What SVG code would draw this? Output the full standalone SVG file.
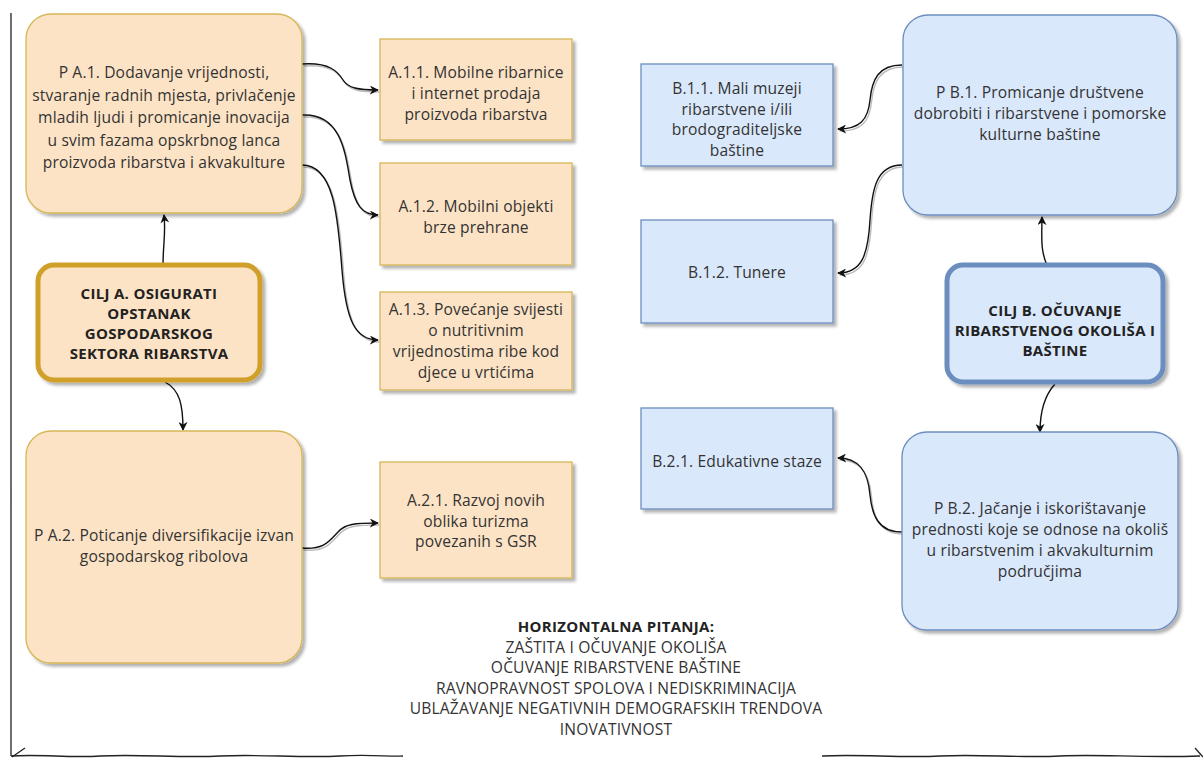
<svg xmlns="http://www.w3.org/2000/svg" width="1203" height="758" viewBox="0 0 1203 758">
<style>
.t{font-family:"Open Sans","Liberation Sans",sans-serif;font-size:15.6px;letter-spacing:0.15px;fill:#333;text-anchor:middle}
.b{font-weight:bold;font-size:15px;letter-spacing:0.3px;fill:#222}
.pe{fill:#fde3c5;stroke:#d6b656;stroke-width:1.3}
.pl{fill:#dae8fc;stroke:#6c8ebf;stroke-width:1.3}
.ga{fill:#fde3c5;stroke:#d0a02a;stroke-width:5}
.gb{fill:#dae8fc;stroke:#6c8ebf;stroke-width:5}
.c{fill:none;stroke:#111;stroke-width:1.4}
.cs{fill:none;stroke:#bbb;stroke-width:1.4}
.fr{fill:none;stroke:#222;stroke-width:1.3}
</style>
<defs>
<filter id="sh" x="-10%" y="-10%" width="130%" height="130%">
<feDropShadow dx="3" dy="3" stdDeviation="1.5" flood-color="#000" flood-opacity="0.3"/>
</filter>
<marker id="ar" viewBox="0 0 10 10" refX="9" refY="5" markerWidth="9" markerHeight="9" markerUnits="userSpaceOnUse" orient="auto">
<path d="M0,0 L10,5 L0,10 L3,5 z" fill="#111"/>
</marker>
</defs>

<g id="frame">
<path class="fr" d="M11,13 C12,120 10,240 11,360 C12,480 10,600 11,756"/>
<path class="fr" d="M11,756 C40,754 70,758 100,756 C140,754 180,758 220,756 C260,754 300,758 340,756 C370,754 390,757 403,756"/>
<path class="fr" d="M12,757 L25,748"/>
<path class="fr" d="M822,756 C860,754 900,758 940,756 C980,754 1020,758 1060,756 C1100,754 1140,758 1200,756"/>
<path class="fr" d="M1195,748 L1203,757"/>
</g>

<g id="connectors">
<g transform="translate(1.5,2)">
<path class="cs" d="M302,64 C330,62 338,72 343,80 C348,88 358,90 378,90"/>
<path class="cs" d="M302,115 C340,113 345,150 350,180 C355,205 362,215 378,215"/>
<path class="cs" d="M302,165 C335,165 338,220 342,270 C346,320 355,340 378,340"/>
<path class="cs" d="M302,548 C325,550 330,540 338,532 C345,524 355,523 378,523"/>
<path class="cs" d="M902,65 C878,65 872,80 870,100 C868,120 860,129 838,129"/>
<path class="cs" d="M902,165 C876,165 872,190 870,220 C868,255 862,273 838,273"/>
<path class="cs" d="M902,532 C878,532 872,515 870,495 C868,470 858,458 838,458"/>
</g>
<path class="c" marker-end="url(#ar)" d="M302,64 C330,62 338,72 343,80 C348,88 358,90 378,90"/>
<path class="c" marker-end="url(#ar)" d="M302,115 C340,113 345,150 350,180 C355,205 362,215 378,215"/>
<path class="c" marker-end="url(#ar)" d="M302,165 C335,165 338,220 342,270 C346,320 355,340 378,340"/>
<path class="c" marker-end="url(#ar)" d="M163,265 C163,245 166,232 164,215"/>
<path class="c" marker-end="url(#ar)" d="M165,382 C180,390 183,405 183,430"/>
<path class="c" marker-end="url(#ar)" d="M302,548 C325,550 330,540 338,532 C345,524 355,523 378,523"/>
<path class="c" marker-end="url(#ar)" d="M902,65 C878,65 872,80 870,100 C868,120 860,129 838,129"/>
<path class="c" marker-end="url(#ar)" d="M902,165 C876,165 872,190 870,220 C868,255 862,273 838,273"/>
<path class="c" marker-end="url(#ar)" d="M1047,265 C1040,250 1042,235 1042,217"/>
<path class="c" marker-end="url(#ar)" d="M1055,384 C1045,395 1040,410 1040,432"/>
<path class="c" marker-end="url(#ar)" d="M902,532 C878,532 872,515 870,495 C868,470 858,458 838,458"/>
</g>

<g id="pa1">
<rect class="pe" filter="url(#sh)" x="26" y="14" width="276" height="199" rx="25"/>
<text class="t" x="164" y="78">P A.1. Dodavanje vrijednosti,</text>
<text class="t" x="164" y="100.5">stvaranje radnih mjesta, privlačenje</text>
<text class="t" x="164" y="123">mladih ljudi i promicanje inovacija</text>
<text class="t" x="164" y="145.5">u svim fazama opskrbnog lanca</text>
<text class="t" x="164" y="168">proizvoda ribarstva i akvakulture</text>
</g>

<g id="a11">
<rect class="pe" filter="url(#sh)" x="380" y="39" width="192" height="101"/>
<text class="t" x="476" y="78">A.1.1. Mobilne ribarnice</text>
<text class="t" x="476" y="99">i internet prodaja</text>
<text class="t" x="476" y="120">proizvoda ribarstva</text>
</g>

<g id="a12">
<rect class="pe" filter="url(#sh)" x="380" y="163" width="192" height="102"/>
<text class="t" x="476" y="212">A.1.2. Mobilni objekti</text>
<text class="t" x="476" y="233">brze prehrane</text>
</g>

<g id="a13">
<rect class="pe" filter="url(#sh)" x="380" y="292" width="192" height="98"/>
<text class="t" x="476" y="315">A.1.3. Povećanje svijesti</text>
<text class="t" x="476" y="336">o nutritivnim</text>
<text class="t" x="476" y="357">vrijednostima ribe kod</text>
<text class="t" x="476" y="378">djece u vrtićima</text>
</g>

<g id="cilja">
<rect class="ga" filter="url(#sh)" x="38" y="265" width="222" height="115" rx="16"/>
<text class="t b" x="149" y="299">CILJ A. OSIGURATI</text>
<text class="t b" x="149" y="319">OPSTANAK</text>
<text class="t b" x="149" y="339">GOSPODARSKOG</text>
<text class="t b" x="149" y="359">SEKTORA RIBARSTVA</text>
</g>

<g id="pa2">
<rect class="pe" filter="url(#sh)" x="26" y="431" width="276" height="232" rx="25"/>
<text class="t" x="164" y="541">P A.2. Poticanje diversifikacije izvan</text>
<text class="t" x="164" y="562">gospodarskog ribolova</text>
</g>

<g id="a21">
<rect class="pe" filter="url(#sh)" x="380" y="462" width="192" height="116"/>
<text class="t" x="476" y="506">A.2.1. Razvoj novih</text>
<text class="t" x="476" y="526.5">oblika turizma</text>
<text class="t" x="476" y="547">povezanih s GSR</text>
</g>

<g id="b11">
<rect class="pl" filter="url(#sh)" x="641" y="64" width="192" height="102"/>
<text class="t" x="737" y="94">B.1.1. Mali muzeji</text>
<text class="t" x="737" y="114.5">ribarstvene i/ili</text>
<text class="t" x="737" y="135">brodograditeljske</text>
<text class="t" x="737" y="155.5">baštine</text>
</g>

<g id="b12">
<rect class="pl" filter="url(#sh)" x="641" y="220" width="192" height="103"/>
<text class="t" x="737" y="278">B.1.2. Tunere</text>
</g>

<g id="pb1">
<rect class="pl" filter="url(#sh)" x="903" y="15" width="274" height="200" rx="25"/>
<text class="t" x="1040" y="98">P B.1. Promicanje društvene</text>
<text class="t" x="1040" y="119">dobrobiti i ribarstvene i pomorske</text>
<text class="t" x="1040" y="140">kulturne baštine</text>
</g>

<g id="ciljb">
<rect class="gb" filter="url(#sh)" x="947" y="265" width="216" height="117" rx="16"/>
<text class="t b" x="1055" y="316">CILJ B. OČUVANJE</text>
<text class="t b" x="1055" y="336">RIBARSTVENOG OKOLIŠA I</text>
<text class="t b" x="1055" y="356">BAŠTINE</text>
</g>

<g id="b21">
<rect class="pl" filter="url(#sh)" x="641" y="408" width="192" height="101"/>
<text class="t" x="737" y="467">B.2.1. Edukativne staze</text>
</g>

<g id="pb2">
<rect class="pl" filter="url(#sh)" x="902" y="432" width="276" height="198" rx="25"/>
<text class="t" x="1040" y="514">P B.2. Jačanje i iskorištavanje</text>
<text class="t" x="1040" y="535">prednosti koje se odnose na okoliš</text>
<text class="t" x="1040" y="556">u ribarstvenim i akvakulturnim</text>
<text class="t" x="1040" y="577">područjima</text>
</g>

<g id="horizontal">
<text class="t b" x="616" y="632">HORIZONTALNA PITANJA:</text>
<text class="t" x="616" y="652.5">ZAŠTITA I OČUVANJE OKOLIŠA</text>
<text class="t" x="616" y="673">OČUVANJE RIBARSTVENE BAŠTINE</text>
<text class="t" x="616" y="693.5">RAVNOPRAVNOST SPOLOVA I NEDISKRIMINACIJA</text>
<text class="t" x="616" y="714">UBLAŽAVANJE NEGATIVNIH DEMOGRAFSKIH TRENDOVA</text>
<text class="t" x="616" y="734.5">INOVATIVNOST</text>
</g>
</svg>
